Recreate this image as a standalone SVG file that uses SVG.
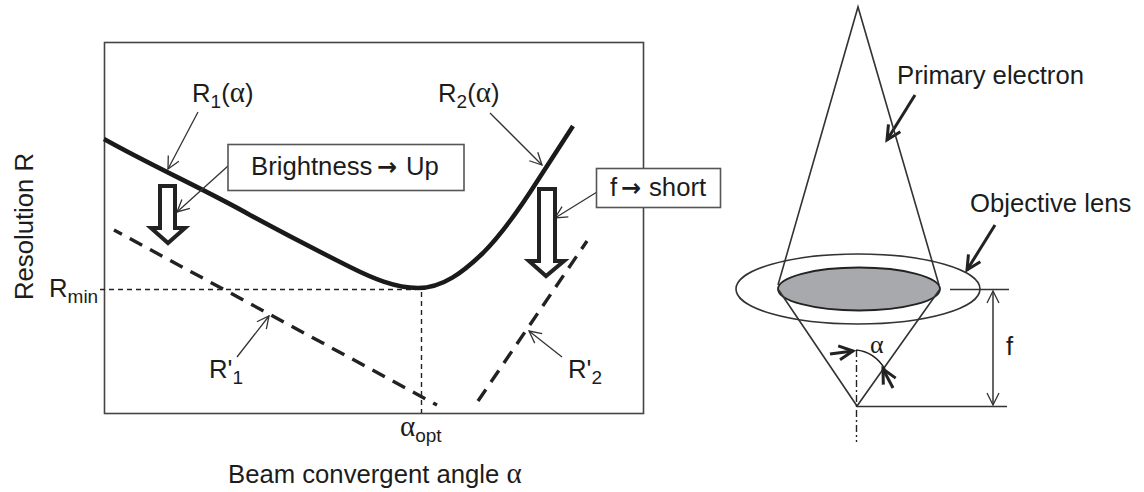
<svg xmlns="http://www.w3.org/2000/svg" width="1144" height="492" viewBox="0 0 1144 492">
<style>
text{font-family:"Liberation Sans",Arial,sans-serif;font-size:25.700px;fill:#1c1c1c}
.g{font-family:"Liberation Serif","Times New Roman",serif;font-size:29px}
.sub{font-size:19px}
.ar{font-family:"DejaVu Sans",sans-serif;font-weight:bold;font-size:24px}
.l{fill:none;stroke:#333;stroke-width:1.500}
.t{fill:none;stroke:#333;stroke-width:1.300}
.thin{fill:none;stroke:#222;stroke-width:1.400;stroke-dasharray:5 4}
.dash{fill:none;stroke:#222;stroke-width:3.400;stroke-dasharray:14 9}
.curve{fill:none;stroke:#1a1a1a;stroke-width:4.500}
.big{fill:#fff;stroke:#222;stroke-width:4}
.box{fill:#fff;stroke:#555;stroke-width:1.600}
.hd{fill:none;stroke:#222;stroke-width:3}
.bl{fill:none;stroke:#333;stroke-width:1.600}
</style>
<defs>
<marker id="o" viewBox="0 0 14 14" refX="13" refY="7" markerWidth="14" markerHeight="14" markerUnits="userSpaceOnUse" orient="auto-start-reverse"><path d="M1 1L13 7L1 13" fill="none" stroke="#333" stroke-width="1.300"/></marker>
<marker id="b" viewBox="0 0 18 18" refX="15" refY="9" markerWidth="18" markerHeight="18" markerUnits="userSpaceOnUse" orient="auto"><path d="M1 2L15 9L1 16" fill="none" stroke="#222" stroke-width="3"/></marker>
</defs>
<g id="plot"><rect x="104.500" y="42.500" width="539" height="371" fill="none" stroke="#444" stroke-width="1.600"/></g>
<g id="connectors">
<path class="thin" d="M100 289.500H416"/>
<path class="thin" d="M421.500 292V413"/>
<path class="curve" d="M104 139C150 165 210 192 250 215C285 234 320 252 350 267C372 278 395 288 418 288C443 288 463 272 483 253C500 236 517 213 538 180L573 126"/>
<path class="dash" style="stroke-dashoffset:5" d="M114 230L437 405"/>
<path class="dash" d="M478 401L587 241"/>
<path class="t" marker-end="url(#o)" d="M198 112L168 169"/>
<path class="t" marker-end="url(#o)" d="M228 166L177 212"/>
<path class="t" marker-end="url(#o)" d="M490 113L542 165"/>
<path class="t" marker-end="url(#o)" d="M597 192L555 218"/>
<path class="t" marker-end="url(#o)" d="M237 357L269 316"/>
<path class="t" marker-end="url(#o)" d="M562 357L529 331"/>
<path class="hd" marker-end="url(#b)" d="M915 95L887 140"/>
<path class="hd" marker-end="url(#b)" d="M995 225L967 270"/>
</g>
<g id="arrow-brightness"><path class="big" d="M160 186H175V228H185L168 243L151 228H160Z"/></g>
<g id="arrow-f"><path class="big" d="M539 189H555V261H564L546 276L529 261H539Z"/></g>
<g id="box-brightness"><rect class="box" x="228" y="144.500" width="236" height="46"/><text x="251" y="175">Brightness</text><text class="ar" x="377" y="175">→</text><text x="406" y="175">Up</text></g>
<g id="box-f"><rect class="box" x="596.500" y="168.500" width="124" height="39"/><text x="610" y="196">f</text><text class="ar" x="621" y="196">→</text><text x="649" y="196">short</text></g>
<g id="labels-left">
<text x="192" y="102">R<tspan class="sub" dy="6">1</tspan><tspan dy="-6">(</tspan><tspan class="g">α</tspan>)</text>
<text x="438" y="102">R<tspan class="sub" dy="6">2</tspan><tspan dy="-6">(</tspan><tspan class="g">α</tspan>)</text>
<text x="49" y="297">R<tspan class="sub" dy="6">min</tspan></text>
<text transform="translate(33 300) rotate(-90)">Resolution R</text>
<text x="209" y="378">R'<tspan class="sub" dy="6">1</tspan></text>
<text x="568" y="378">R'<tspan class="sub" dy="6">2</tspan></text>
<text x="400" y="436"><tspan class="g">α</tspan><tspan class="sub" dy="6">opt</tspan></text>
<text x="228" y="483">Beam convergent angle <tspan class="g">α</tspan></text>
</g>
<g id="lens">
<ellipse cx="858" cy="289" rx="122" ry="35" fill="#fff" stroke="#333" stroke-width="1.600"/>
<path class="bl" d="M778 285L858 7L939 285"/>
<ellipse cx="859" cy="289" rx="81" ry="21.500" fill="#a7a9ac" stroke="#222" stroke-width="1.800"/>
<path class="bl" d="M778 289L857 406L940 289"/>
<path class="thin" style="stroke-dasharray:7 3 2 3" d="M856.500 350V442"/>
<path class="bl" d="M950 289.500H1009M857 406.500H1007"/>
<path class="l" marker-start="url(#o)" marker-end="url(#o)" d="M993 291V405"/>
<path fill="none" stroke="#222" stroke-width="1.500" d="M856 350C868 351 878 358 885 369"/>
<path class="hd" marker-end="url(#b)" d="M830 354L853 351"/>
<path class="hd" marker-end="url(#b)" d="M893 388L883 369"/>
<text class="g" style="font-size:26px" x="870" y="353">α</text>
<text x="1006" y="355">f</text>
<text x="897" y="84">Primary electron</text>
<text x="970" y="212">Objective lens</text>
</g>
</svg>
